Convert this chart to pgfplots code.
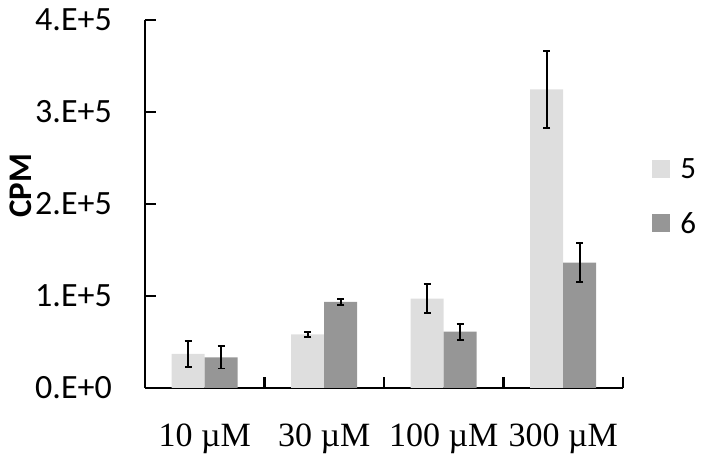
\documentclass[border=0pt]{standalone}
\usepackage{pgfplots}
\pgfplotsset{compat=1.18}
\usepackage{fontspec}
\setmainfont{Carlito}
\newfontfamily\tnr{Liberation Serif}
\definecolor{lightbar}{RGB}{222,222,222}
\definecolor{darkbar}{RGB}{150,150,150}

\begin{document}
\begin{tikzpicture}
\path[use as bounding box] (0,0) rectangle (705pt,462pt);
\begin{axis}[
  at={(145pt,74pt)}, anchor=south west,
  scale only axis, width=478pt, height=368pt,
  ybar=0pt, bar width=33pt,
  xmin=-0.5, xmax=3.5, ymin=0, ymax=400000,
  axis lines*=left,
  axis line style={line width=2.5pt, black},
  xtick={0,1,2,3},
  xticklabels={10 µM, 30 µM, 100 µM, 300 µM},
  major x tick style={draw=none},
  minor xtick={-0.5,0.5,1.5,2.5,3.5},
  minor x tick style={line width=2.5pt, black},
  minor tick length=11pt,
  xticklabel style={font=\tnr\fontsize{34}{38}\selectfont, anchor=base, inner sep=0pt, yshift=-59pt},
  ytick={0,100000,200000,300000,400000},
  yticklabels={0.E+0,1.E+5,2.E+5,3.E+5,4.E+5},
  scaled y ticks=false,
  major tick length=11pt,
  major y tick style={line width=2.5pt, black},
  tick align=inside,
  yticklabel style={font=\fontsize{34}{40}\selectfont, anchor=east, inner sep=0pt, xshift=-33pt},
  ylabel={CPM},
  ylabel style={font=\bfseries\fontsize{33}{38}\selectfont, at={(axis description cs:-0.259,0.549)}, anchor=center},
  legend style={draw=none, fill=none, at={(1.061,0.52)}, anchor=west, inner sep=0pt,
    font=\fontsize{31}{34}\selectfont, row sep=28pt,
    /tikz/every odd column/.append style={column sep=8pt}},
  legend image code/.code={\fill[#1] (0pt,-9pt) rectangle (18pt,9pt);},
  error bars/error bar style={line width=1.8pt, black},
  error bars/error mark options={rotate=90, mark size=3.5pt, line width=1.8pt, black},
  clip=false,
]
\addplot[fill=lightbar, draw=none, error bars/.cd, y dir=both, y explicit]
  coordinates {(0,37000) +- (0,13800) (1,58300) +- (0,2700) (2,97100) +- (0,15800) (3,324700) +- (0,42000)};
\addplot[fill=darkbar, draw=none, error bars/.cd, y dir=both, y explicit]
  coordinates {(0,33300) +- (0,12200) (1,93500) +- (0,3400) (2,61200) +- (0,8700) (3,136200) +- (0,21000)};
\legend{5,6}
\end{axis}
\end{tikzpicture}
\end{document}
